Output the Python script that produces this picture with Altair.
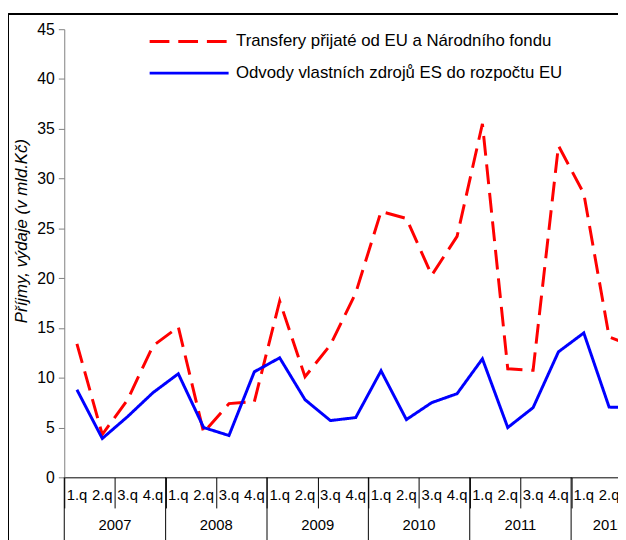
import altair as alt
import pandas as pd

# ---- data ----
years = ["2007", "2008", "2009", "2010", "2011", "2012"]
quarter_names = ["1.q", "2.q", "3.q", "4.q"]
series_names = [
    "Transfery přijaté od EU a Národního fondu",
    "Odvody vlastních zdrojů ES do rozpočtu EU",
]
transfers = [13.4, 4.3, 7.8, 13.2,
             15.1, 4.5, 7.4, 7.6,
             17.7, 10.1, 13.3, 18.5,
             26.7, 26.0, 20.3, 24.2,
             35.5, 10.9, 10.75, 33.3,
             28.5, 14.1, 13.1]
payments = [8.8, 3.9, 6.1, 8.5,
            10.4, 5.0, 4.2, 10.6,
            12.0, 7.8, 5.7, 6.0,
            10.7, 5.8, 7.5, 8.4,
            11.9, 5.0, 7.0, 12.6,
            14.5, 7.05, 7.0]
y_ticks = [0, 5, 10, 15, 20, 25, 30, 35, 40, 45]

n = len(transfers)
idx = list(range(n))
q_labels = [quarter_names[i % 4] for i in idx]
year_of = [years[i // 4] for i in idx]

rows = []
for s, vals in zip(series_names, [transfers, payments]):
    for i, v in enumerate(vals):
        rows.append({"idx": i, "series": s, "value": v})
df = pd.DataFrame(rows)

qdf = pd.DataFrame({"idx": idx, "label": q_labels})
q_bounds = [i - 0.5 for i in range(n + 1)]

year_centers = []
for y in years:
    members = [i for i in idx if year_of[i] == y]
    year_centers.append((members[0] + members[-1]) / 2)
ydf = pd.DataFrame({"idx": year_centers, "label": years})
ysep = pd.DataFrame({"idx": [years.index(y) * 4 - 0.5 for y in years]})

W, H = 561, 454
FONT = "Liberation Sans"

xscale = alt.Scale(domain=[-0.5, 21.35], nice=False, zero=False)

legend_cfg = dict(orient="none", legendX=115, legendY=1,
                  title=None, symbolType="M-4,0H4",
                  symbolSize=400, symbolStrokeWidth=3,
                  labelFontSize=17, labelColor="black", labelLimit=0,
                  labelOffset=36, rowPadding=12)

lines = alt.Chart(df).mark_line(strokeWidth=3, clip=True).encode(
    x=alt.X("idx:Q", scale=xscale,
            axis=alt.Axis(values=q_bounds, tickSize=31, tickColor="black",
                          domainColor="black", labels=False, title=None,
                          grid=False, tickWidth=1, domainWidth=1)),
    y=alt.Y("value:Q", scale=alt.Scale(domain=[0, 45], nice=False),
            axis=alt.Axis(values=y_ticks, tickSize=6, tickColor="#808080",
                          domainColor="#808080", grid=False,
                          labelFontSize=16, labelColor="black", labelPadding=4,
                          title="Příjmy, výdaje (v mld.Kč)",
                          titleFontStyle="italic", titleFontWeight="normal",
                          titleFontSize=17, titleColor="black",
                          titleX=-43, titleY=204, titleAngle=270,
                          titleAlign="center", titleBaseline="middle")),
    color=alt.Color("series:N",
                    scale=alt.Scale(domain=series_names, range=["#ff0000", "#0000ff"]),
                    legend=alt.Legend(**legend_cfg)),
    strokeDash=alt.StrokeDash("series:N",
                              scale=alt.Scale(domain=series_names, range=[[20, 9], [1, 0]]),
                              legend=alt.Legend(**legend_cfg)),
)

qtext = alt.Chart(qdf).mark_text(fontSize=15, baseline="alphabetic", align="center",
                                 color="black").encode(
    x=alt.X("idx:Q", scale=xscale), y=alt.value(477), text="label:N")

ytext = alt.Chart(ydf).mark_text(fontSize=15, baseline="middle", align="center",
                                 color="black").encode(
    x=alt.X("idx:Q", scale=xscale), y=alt.value(502), text="label:N")

yrules = alt.Chart(ysep).mark_rule(color="black", strokeWidth=1).encode(
    x=alt.X("idx:Q", scale=xscale), y=alt.value(454), y2=alt.value(520))

frame_top = alt.Chart(df).mark_rule(color="black", strokeWidth=1).encode(
    x=alt.value(-56.5), x2=alt.value(W + 5), y=alt.value(-15))
frame_left = alt.Chart(df).mark_rule(color="black", strokeWidth=1).encode(
    x=alt.value(-56.5), y=alt.value(-15), y2=alt.value(520))

chart = alt.layer(frame_top, frame_left, yrules, lines, qtext, ytext).properties(
    width=W, height=H,
    autosize=alt.AutoSizeParams(type="none"),
    padding={"left": 57, "top": 18, "right": 0, "bottom": 60},
).configure(font=FONT).configure_view(stroke=None).configure_axis(
    labelFont=FONT, titleFont=FONT).configure_legend(labelFont=FONT)

chart.save("out.html", embed_options={"renderer": "svg", "actions": False})
